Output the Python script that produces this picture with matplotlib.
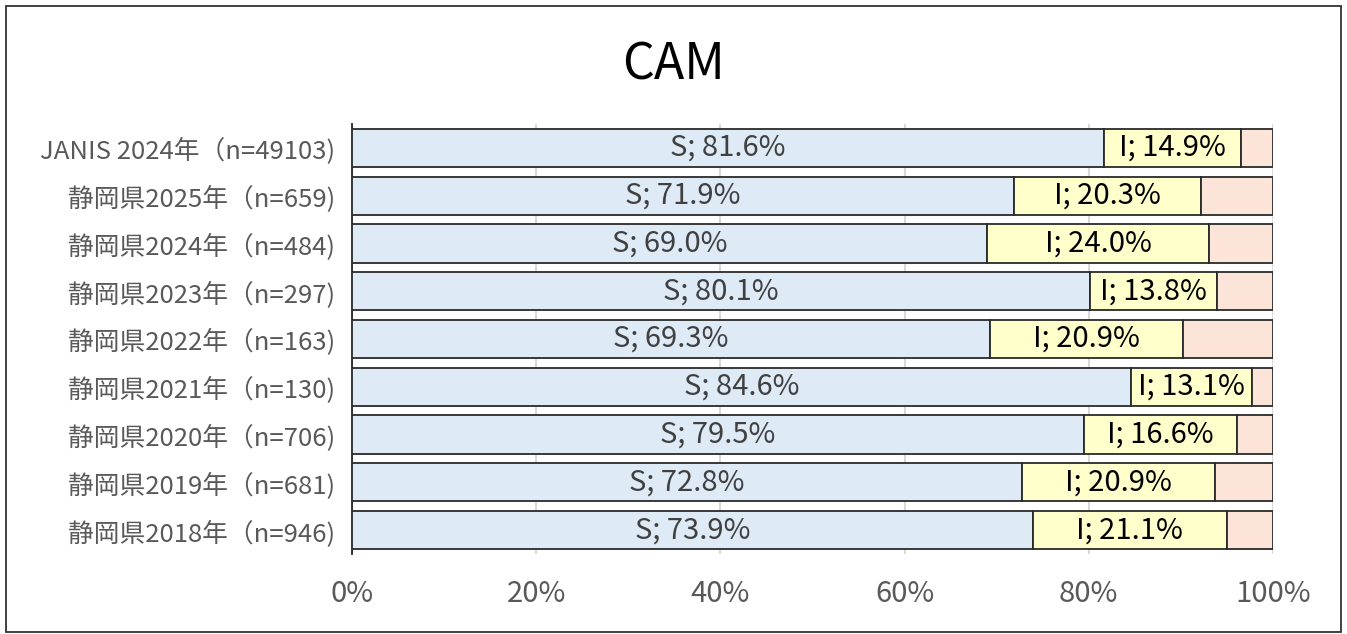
import matplotlib
matplotlib.use("Agg")
import matplotlib.pyplot as plt
from matplotlib.patches import Rectangle

plt.rcParams['font.family'] = ['Noto Sans CJK JP', 'DejaVu Sans']

categories = ["JANIS 2024年（n=49103)", "静岡県2025年（n=659)", "静岡県2024年（n=484)",
              "静岡県2023年（n=297)", "静岡県2022年（n=163)", "静岡県2021年（n=130)",
              "静岡県2020年（n=706)", "静岡県2019年（n=681)", "静岡県2018年（n=946)"]
s_vals = [81.6, 71.9, 69.0, 80.1, 69.3, 84.6, 79.5, 72.8, 73.9]
i_vals = [14.9, 20.3, 24.0, 13.8, 20.9, 13.1, 16.6, 20.9, 21.1]
r_vals = [round(100 - s - i, 1) for s, i in zip(s_vals, i_vals)]
xticks = [0, 20, 40, 60, 80, 100]
xtick_labels = ["0%", "20%", "40%", "60%", "80%", "100%"]

fig = plt.figure(figsize=(13.47, 6.34), dpi=100)
ax = fig.add_axes([352/1347, 1 - 554/634, (1273-352)/1347, (554-124)/634])

y = list(range(len(categories)))[::-1]
ec = '#2a2a2a'
lw = 1.3
ax.barh(y, s_vals, height=0.8, color='#deebf7', edgecolor=ec, linewidth=lw, zorder=3)
ax.barh(y, i_vals, left=s_vals, height=0.8, color='#ffffcc', edgecolor=ec, linewidth=lw, zorder=3)
left_r = [s + i for s, i in zip(s_vals, i_vals)]
ax.barh(y, r_vals, left=left_r, height=0.8, color='#fde4d8', edgecolor=ec, linewidth=lw, zorder=3)

for yy, s, i in zip(y, s_vals, i_vals):
    ax.text(s / 2, yy, f"S; {s:.1f}%", ha='center', va='center', fontsize=21, color='#404040', zorder=4)
    ax.text(s + i / 2, yy, f"I; {i:.1f}%", ha='center', va='center', fontsize=21, color='black', zorder=5)

ax.set_xlim(0, 100)
ax.set_ylim(-0.5, len(categories) - 0.5)
ax.set_xticks(xticks)
ax.set_xticklabels(xtick_labels, fontsize=21, color='#595959')
ax.set_yticks(y)
ax.set_yticklabels(categories, fontsize=18.5, color='#595959')
ax.tick_params(axis='both', length=0)
ax.tick_params(axis='x', pad=18)
ax.tick_params(axis='y', pad=12)
ax.grid(axis='x', color='#d9d9d9', linewidth=1.5, zorder=0)
for sp in ['top', 'right', 'bottom']:
    ax.spines[sp].set_visible(False)
ax.spines['left'].set_color('#222222')
ax.spines['left'].set_linewidth(1.3)

fig.text(0.5, 1 - 66/634, "CAM", ha='center', va='center', fontsize=36, color='black')

fig.patches.append(Rectangle((6/1347, 2/634), 1335/1347, 626/634, transform=fig.transFigure,
                             fill=False, edgecolor='#333333', linewidth=1.3))

fig.savefig("out.png", dpi=100)
